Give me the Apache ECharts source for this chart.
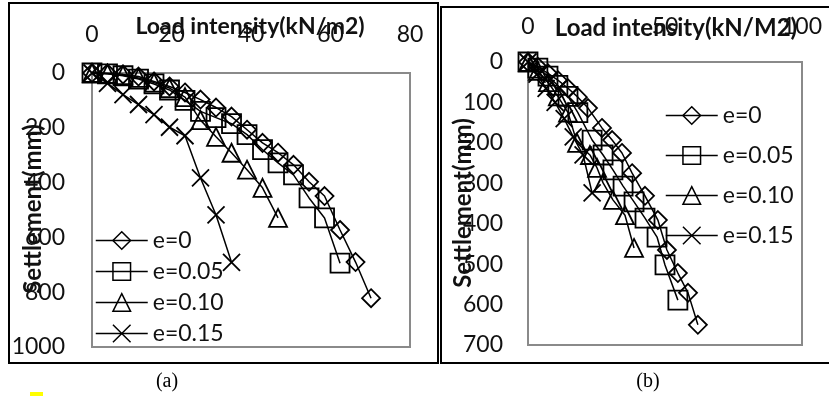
<!DOCTYPE html>
<html>
<head>
<meta charset="utf-8">
<script src="https://cdn.jsdelivr.net/npm/echarts@6/dist/echarts.min.js"></script>
<style>
  html, body { margin: 0; padding: 0; background: #fff; }
  #chart { width: 829px; height: 396px; }
</style>
</head>
<body>
<div id="chart"></div>
<script>
// ---- Panel (a): load intensity (kN/m2) vs settlement (mm) ----
const seriesNames = ['e=0', 'e=0.05', 'e=0.10', 'e=0.15'];

const loadA_e0   = [0, 3.9, 7.8, 11.7, 15.6, 19.5, 23.4, 27.3, 31.2, 35.1, 39, 42.9, 46.8, 50.7, 54.6, 58.5, 62.4, 66.3, 70.2];
const settA_e0   = [0, 1, 5, 13, 31, 49, 71, 97, 126, 159, 207, 255, 291, 335, 397, 449, 573, 690, 822];
const loadA_e005 = [0, 3.9, 7.8, 11.7, 15.6, 19.5, 23.4, 27.3, 31.2, 35.1, 39, 42.9, 46.8, 50.7, 54.6, 58.5, 62.4];
const settA_e005 = [0, 3, 10, 22, 40, 62, 100, 140, 163, 185, 225, 280, 328, 372, 456, 529, 694];
const loadA_e010 = [0, 3.9, 7.8, 11.7, 15.6, 19.5, 23.4, 27.3, 31.2, 35.1, 39, 42.9, 46.8];
const settA_e010 = [0, 3, 8, 18, 35, 55, 88, 172, 233, 291, 353, 419, 529];
const loadA_e015 = [0, 3.9, 7.8, 11.7, 15.6, 19.5, 23.4, 27.3, 31.2, 35.1];
const settA_e015 = [0, 38, 79, 115, 152, 198, 229, 383, 518, 691];

// ---- Panel (b) ----
const loadB_e0   = [0, 3.6, 7.3, 10.9, 14.6, 18.2, 21.9, 27, 30.7, 34.3, 38, 42.7, 47.4, 50.7, 54.7, 58.4, 62];
const settB_e0   = [0, 12, 28, 45, 65, 87, 114, 163, 193, 225, 275, 331, 391, 465, 522, 571, 650];
const loadB_e005 = [0, 3.6, 7.3, 10.9, 14.6, 18.2, 23.4, 27.4, 31, 34.7, 38.7, 42.7, 47.1, 50, 54.7];
const settB_e005 = [0, 15, 35, 58, 85, 125, 193, 230, 267, 307, 346, 386, 433, 502, 589];
const loadB_e010 = [0, 3.6, 7.3, 10.9, 14.6, 17.9, 22.6, 25.2, 27.4, 31, 35.4, 38.7];
const settB_e010 = [0, 22, 50, 85, 125, 200, 230, 262, 299, 341, 379, 460];
const loadB_e015 = [0, 3.3, 6.6, 9.9, 13.2, 16.5, 20.1, 23.4];
const settB_e015 = [0, 30, 65, 100, 140, 185, 230, 324];

// ---- Axis ticks ----
const xTicksA = { min: 0, max: 80, interval: 20 };
const yTicksA = { min: 0, max: 1000, interval: 200 };
const xTicksB = { min: 0, max: 100, interval: 50 };
const yTicksB = { min: 0, max: 700, interval: 100 };

const FONT = 'Lato';
const crossPath = 'path://M0,0L10,10M10,0L0,10';
const symbolTypes = ['diamond', 'rect', 'triangle', crossPath];
const symbolSizes = [18, 19, 18, 17];

function pairs(xs, ys) { return xs.map((x, i) => [x, ys[i]]); }

function makeSeries(idx, name, data, k) {
  return {
    type: 'line',
    name: name,
    xAxisIndex: idx,
    yAxisIndex: idx,
    data: data,
    clip: false,
    symbol: symbolTypes[k],
    symbolSize: symbolSizes[k],
    showAllSymbol: true,
    animation: false,
    lineStyle: { color: '#000', width: 1.5 },
    itemStyle: { color: 'transparent', borderColor: '#000', borderWidth: 1.8 },
    emphasis: { disabled: true }
  };
}

const dataA = [pairs(loadA_e0, settA_e0), pairs(loadA_e005, settA_e005), pairs(loadA_e010, settA_e010), pairs(loadA_e015, settA_e015)];
const dataB = [pairs(loadB_e0, settB_e0), pairs(loadB_e005, settB_e005), pairs(loadB_e010, settB_e010), pairs(loadB_e015, settB_e015)];

const series = [];
dataA.forEach((d, k) => series.push(makeSeries(0, seriesNames[k], d, k)));
dataB.forEach((d, k) => series.push(makeSeries(1, seriesNames[k], d, k)));

const plainNumber = v => String(v);

function xAxis(grid, t, margin) {
  return {
    type: 'value', gridIndex: grid, position: 'top',
    min: t.min, max: t.max, interval: t.interval,
    axisLine: { show: false }, axisTick: { show: false }, splitLine: { show: false },
    axisLabel: { fontFamily: FONT, fontSize: 23, color: '#111', margin: margin, formatter: plainNumber }
  };
}
function yAxis(grid, t, margin) {
  return {
    type: 'value', gridIndex: grid, inverse: true,
    min: t.min, max: t.max, interval: t.interval,
    axisLine: { show: false }, axisTick: { show: false }, splitLine: { show: false },
    axisLabel: { fontFamily: FONT, fontSize: 23, color: '#111', margin: margin, formatter: plainNumber }
  };
}

function legend(left, top, gap) {
  return {
    data: seriesNames,
    orient: 'vertical',
    left: left, top: top,
    itemWidth: 52, itemHeight: 22, itemGap: gap,
    selectedMode: false,
    textStyle: { fontFamily: FONT, fontSize: 23, color: '#111', lineHeight: 22 },
    itemStyle: { color: 'transparent', borderColor: '#000', borderWidth: 1.5 },
    lineStyle: { color: '#000', width: 1.5 }
  };
}

function label(x, y, text, size, opts) {
  return Object.assign({
    type: 'text', x: x, y: y, z: 10,
    style: Object.assign({
      text: text, fill: '#111', fontFamily: FONT, fontSize: size, fontWeight: 'bold',
      align: 'center', verticalAlign: 'middle'
    }, opts || {})
  });
}

const yTitleA = label(33, 209, 'Settlement(mm)', 24);
yTitleA.rotation = Math.PI / 2;
const yTitleB = label(463, 203, 'Settlement(mm)', 24);
yTitleB.rotation = Math.PI / 2;

const chart = echarts.init(document.getElementById('chart'), null, { renderer: 'canvas' });
chart.setOption({
  backgroundColor: '#fff',
  animation: false,
  grid: [
    { left: 92, top: 73, width: 318, height: 274, show: true, borderColor: '#8a8a8a', borderWidth: 2, backgroundColor: 'transparent' },
    { left: 528, top: 62, width: 274, height: 283, show: true, borderColor: '#8a8a8a', borderWidth: 2, backgroundColor: 'transparent' }
  ],
  xAxis: [xAxis(0, xTicksA, 27), xAxis(1, xTicksB, 24)],
  yAxis: [yAxis(0, yTicksA, 27), yAxis(1, yTicksB, 25)],
  legend: [legend(90, 224, 8), legend(660, 99, 17)],
  series: series,
  graphic: [
    // panel frames
    { type: 'rect', shape: { x: 9, y: 3, width: 429, height: 360 }, style: { fill: 'none', stroke: '#000', lineWidth: 2 }, z: 0 },
    { type: 'rect', shape: { x: 441, y: 7, width: 400, height: 356 }, style: { fill: 'none', stroke: '#000', lineWidth: 2 }, z: 0 },
    // axis titles
    label(250, 27, 'Load intensity(kN/m2)', 23),
    label(676, 28, 'Load intensity(kN/M2)', 24),
    yTitleA,
    yTitleB,
    // panel captions
    label(167, 382, '(a)', 20, { fontFamily: 'Liberation Serif', fontWeight: 'normal', fill: '#000' }),
    label(648, 382, '(b)', 20, { fontFamily: 'Liberation Serif', fontWeight: 'normal', fill: '#000' }),
    // small highlight mark below panel (a)
    { type: 'rect', shape: { x: 30, y: 392, width: 13, height: 4 }, style: { fill: '#ffff00' } }
  ]
});
</script>
</body>
</html>
